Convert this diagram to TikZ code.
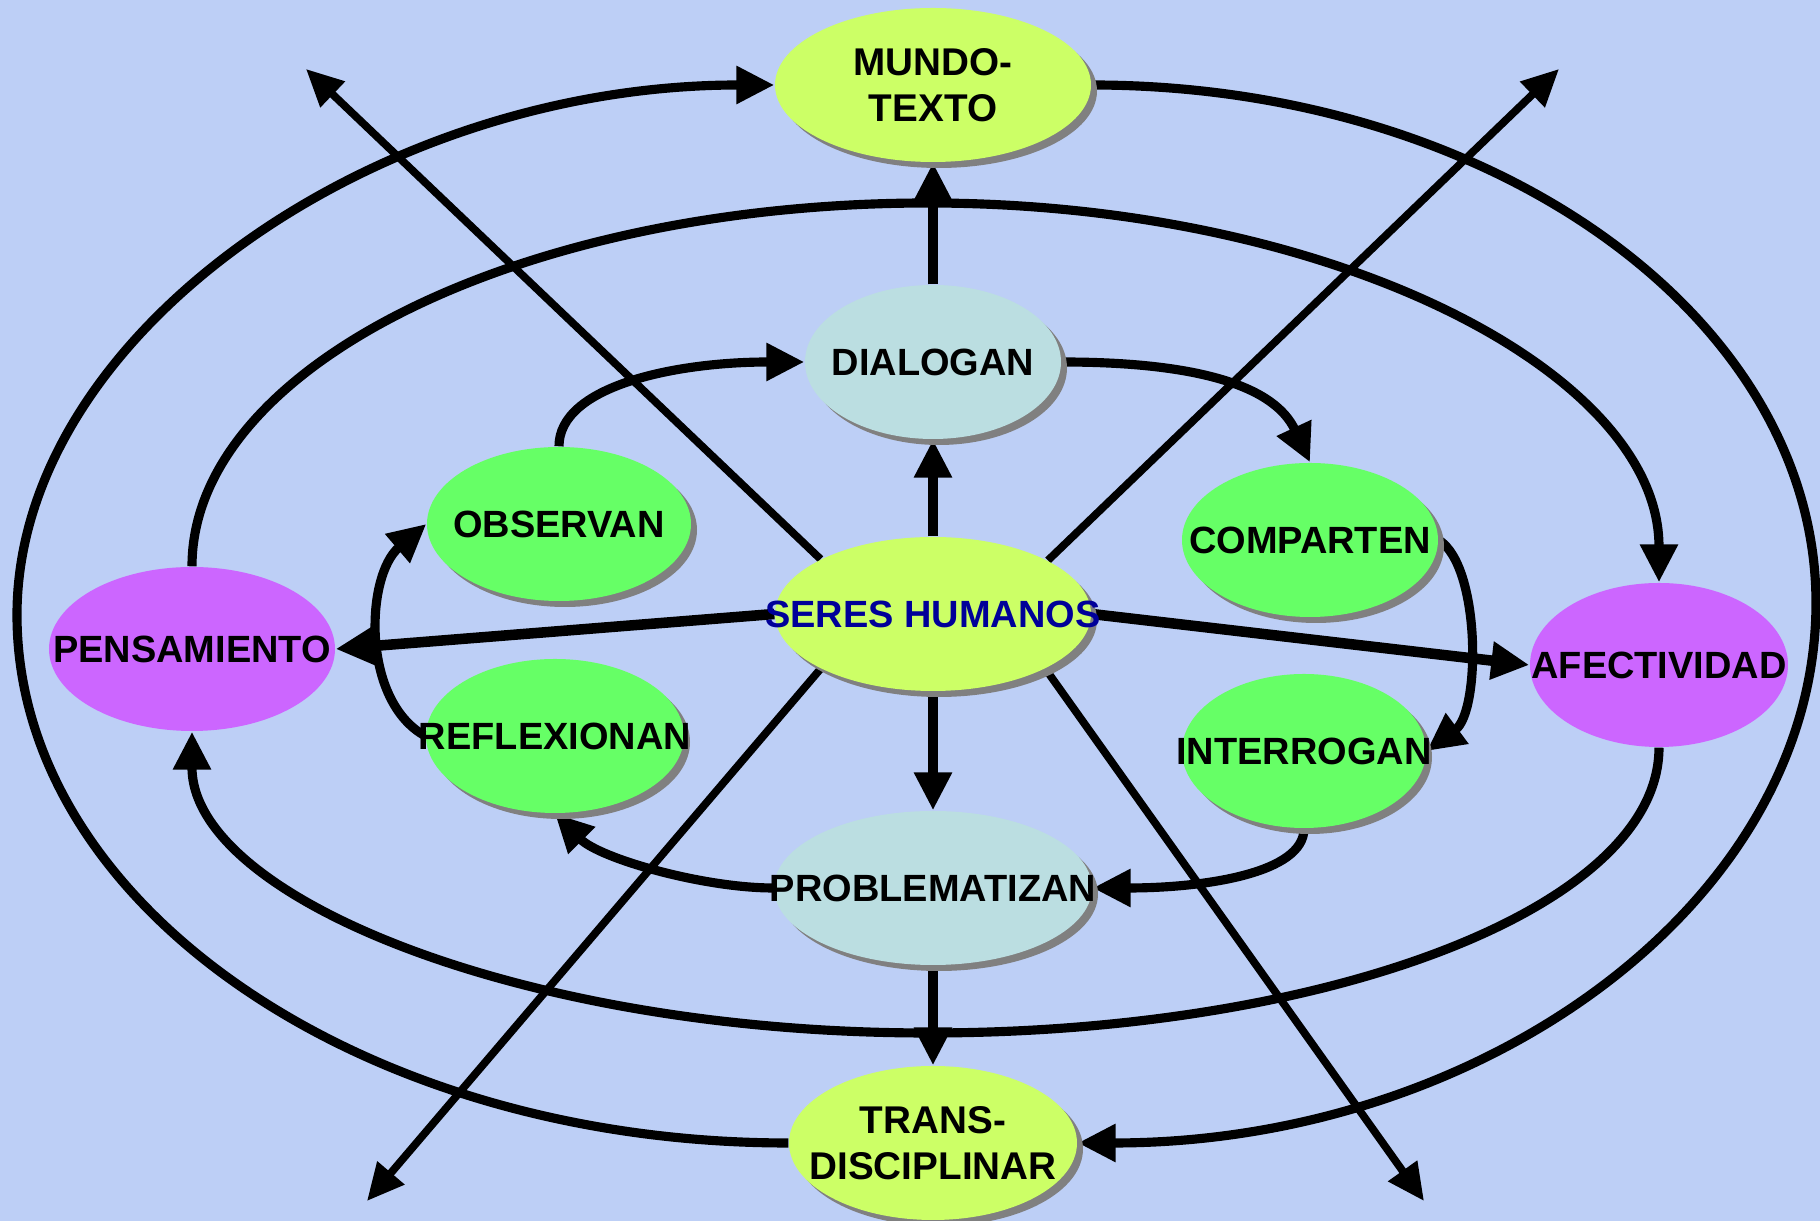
\documentclass[tikz,border=0pt]{standalone}
\usepackage{fontspec}
\setmainfont{Liberation Sans}
\usetikzlibrary{shapes.geometric, arrows.meta, shadows}

\definecolor{paper}{RGB}{189,207,246}
\definecolor{lime}{RGB}{204,255,102}
\definecolor{sky}{RGB}{187,222,225}
\definecolor{leaf}{RGB}{102,255,102}
\definecolor{lilac}{RGB}{204,102,255}
\definecolor{navy}{RGB}{0,0,153}
\definecolor{shadowgray}{RGB}{128,128,128}

\pgfdeclarelayer{background}
\pgfdeclarelayer{links}
\pgfsetlayers{background,links,main}

\tikzset{
  bubble/.style={ellipse, inner sep=0pt, minimum height=1.54cm},
  shadowed/.style={drop shadow={shadow xshift=0.06cm, shadow yshift=-0.06cm, fill=shadowgray, opacity=1}},
  word/.style={font=\bfseries\fontsize{10.8}{13}\selectfont, align=center},
  bigword/.style={font=\bfseries\fontsize{11}{13}\selectfont, align=center},
  link/.style={line width=2.6pt, -{Triangle[length=3.8mm, width=3.6mm]}},
  ray/.style={line width=2.2pt, -{Triangle[length=3.7mm, width=3.4mm]}}
}

\begin{document}
\begin{tikzpicture}
    \useasboundingbox (0,0) rectangle (18.2,12.21);
    \begin{pgfonlayer}{background}
        \fill[paper] (0,0) rectangle (18.2,12.21);
    \end{pgfonlayer}

    % The centre and the four poles
    \node[bubble, shadowed, fill=lime, minimum width=3.16cm,
          label={[word, text=navy]center:SERES HUMANOS}] (seres) at (9.33,6.07) {};
    \node[bubble, shadowed, fill=lime, minimum width=3.16cm,
          label={[bigword]center:MUNDO-\\TEXTO}] (mundo) at (9.33,11.36) {};
    \node[bubble, shadowed, fill=lime, minimum width=2.88cm,
          label={[bigword]center:TRANS-\\DISCIPLINAR}] (trans) at (9.33,0.78) {};
    \node[bubble, fill=lilac, minimum width=2.86cm, minimum height=1.64cm,
          label={[word]center:PENSAMIENTO}] (pens) at (1.92,5.72) {};
    \node[bubble, fill=lilac, minimum width=2.58cm, minimum height=1.64cm,
          label={[word]center:AFECTIVIDAD}] (afect) at (16.59,5.56) {};

    % The inner ring of actions
    \node[bubble, shadowed, fill=sky, minimum width=2.56cm,
          label={[word]center:DIALOGAN}] (dial) at (9.33,8.59) {};
    \node[bubble, shadowed, fill=sky, minimum width=3.18cm,
          label={[word]center:PROBLEMATIZAN}] (prob) at (9.33,3.33) {};
    \node[bubble, shadowed, fill=leaf, minimum width=2.64cm,
          label={[word]center:OBSERVAN}] (obs) at (5.59,6.97) {};
    \node[bubble, shadowed, fill=leaf, minimum width=2.56cm,
          label={[word]center:COMPARTEN}] (comp) at (13.10,6.81) {};
    \node[bubble, shadowed, fill=leaf, minimum width=2.58cm,
          label={[word]center:REFLEXIONAN}] (refl) at (5.55,4.85) {};
    \node[bubble, shadowed, fill=leaf, minimum width=2.44cm,
          label={[word]center:INTERROGAN}] (inter) at (13.04,4.70) {};

    % Turning points of the loops and ends of the rays
    \coordinate (outL) at (0.17,6.06);
    \coordinate (outR) at (18.16,6.18);
    \coordinate (midT) at (9.28,10.18);
    \coordinate (midB) at (9.28,1.88);
    \coordinate (tl) at (3.06,11.52);
    \coordinate (tr) at (15.59,11.52);
    \coordinate (bl) at (3.67,0.20);
    \coordinate (br) at (14.24,0.20);

    \begin{pgfonlayer}{links}
    % Outer loop
    \draw[link] (trans.west) .. controls +(-4.26,0) and +(0,-2.91) .. (outL)
        .. controls +(0,2.8) and +(-4.0,0) .. (mundo.west);
    \draw[link] (mundo.east) .. controls +(4.0,0) and +(0,2.86) .. (outR)
        .. controls +(0,-2.98) and +(4.07,0) .. (trans.east);

    % Middle loop
    \draw[link] (pens.north) .. controls +(0,2.0) and +(-4.06,0) .. (midT)
        .. controls +(4.04,0) and +(0,2.1) .. (afect.north);
    \draw[link] (afect.south) .. controls +(0,-1.6) and +(4.0,0) .. (midB)
        .. controls +(-4.06,0) and +(0,-1.65) .. (pens.south);

    % Inner loop
    \draw[link] (obs.north) .. controls +(0,0.6) and +(-1.3,0) .. (dial.west);
    \draw[link] (dial.east) .. controls +(1.4,0) and +(-0.35,0.75) .. (comp.north);
    \draw[link] (comp.east) .. controls +(0.42,-0.26) and +(0.54,0.40) .. (inter.east);
    \draw[link] (inter.south) .. controls +(0,-0.45) and +(1.1,0) .. (prob.east);
    \draw[link] (prob.west) .. controls +(-0.7,0) and +(0.45,-0.45) .. (refl.south);
    \draw[link] (refl.west) .. controls +(-0.64,0.35) and +(-0.61,-0.52) .. (obs.west);

    % Spokes from the centre
    \draw[link] (dial.north) -- (mundo.south);
    \draw[link] (seres.north) -- (dial.south);
    \draw[link] (seres.south) -- (prob.north);
    \draw[link] (prob.south) -- (trans.north);
    \draw[link, line width=3pt] (seres.west) -- (pens.east);
    \draw[link, line width=3pt] (seres.east) -- (afect.west);

    % Rays
    \draw[ray] (seres.154) -- (tl);
    \draw[ray] (seres.25) -- (tr);
    \draw[ray] (seres.206) -- (bl);
    \draw[ray] (seres.334) -- (br);
    \end{pgfonlayer}
\end{tikzpicture}
\end{document}
